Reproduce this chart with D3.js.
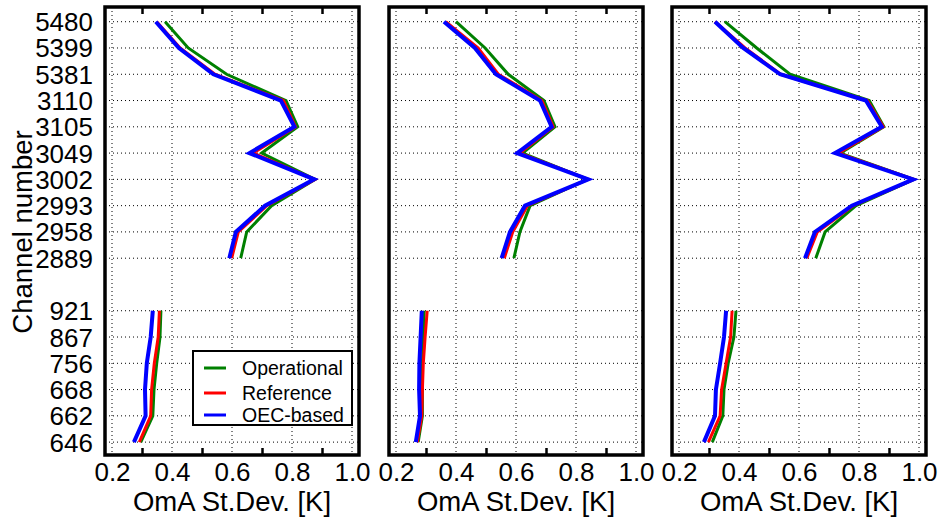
<!DOCTYPE html>
<html>
<head>
<meta charset="utf-8">
<script src="https://cdn.jsdelivr.net/npm/d3@7"></script>
<style>
  body { margin: 0; background: #fff; }
  svg { display: block; font-family: "Liberation Sans", Arial, sans-serif; }
</style>
</head>
<body>
<div id="chart"></div>
<script>
// Channels, top to bottom; the two groups are separated by one empty slot
var channelsUpper = ['5480', '5399', '5381', '3110', '3105', '3049', '3002', '2993', '2958', '2889'];
var channelsLower = ['921', '867', '756', '668', '662', '646'];

// OmA st.dev. per channel (upper group then lower group), one set per panel
var operational1 = [0.377, 0.454, 0.582, 0.780, 0.819, 0.699, 0.877, 0.732, 0.649, 0.629, 0.363, 0.360, 0.349, 0.340, 0.336, 0.296];
var reference1   = [0.349, 0.427, 0.543, 0.771, 0.812, 0.671, 0.877, 0.716, 0.621, 0.599, 0.358, 0.354, 0.341, 0.332, 0.329, 0.291];
var oecBased1    = [0.346, 0.423, 0.538, 0.763, 0.808, 0.658, 0.874, 0.710, 0.613, 0.591, 0.336, 0.329, 0.316, 0.310, 0.312, 0.273];

var operational2 = [0.400, 0.497, 0.574, 0.693, 0.730, 0.622, 0.838, 0.647, 0.613, 0.593, 0.294, 0.291, 0.288, 0.288, 0.288, 0.274];
var reference2   = [0.366, 0.474, 0.541, 0.686, 0.724, 0.613, 0.841, 0.638, 0.589, 0.561, 0.304, 0.297, 0.291, 0.288, 0.286, 0.271];
var oecBased2    = [0.360, 0.463, 0.533, 0.680, 0.719, 0.604, 0.841, 0.630, 0.580, 0.552, 0.286, 0.282, 0.278, 0.277, 0.280, 0.266];

var operational3 = [0.353, 0.459, 0.570, 0.834, 0.883, 0.737, 0.983, 0.790, 0.687, 0.656, 0.390, 0.383, 0.364, 0.350, 0.346, 0.311];
var reference3   = [0.320, 0.420, 0.539, 0.828, 0.881, 0.731, 0.983, 0.781, 0.661, 0.626, 0.377, 0.372, 0.357, 0.342, 0.337, 0.298];
var oecBased3    = [0.320, 0.414, 0.537, 0.823, 0.876, 0.720, 0.981, 0.776, 0.653, 0.620, 0.357, 0.350, 0.337, 0.323, 0.320, 0.283];

var seriesNames = ['Operational', 'Reference', 'OEC-based'];
var seriesColors = ['#008000', '#ff0000', '#0000ff'];
var seriesWidths = [3, 3, 4];

var xLabelValues = [0.2, 0.4, 0.6, 0.8, 1.0];
var xTickValues = [0.3, 0.5, 0.7, 0.9];

var panels = [
    [operational1, reference1, oecBased1],
    [operational2, reference2, oecBased2],
    [operational3, reference3, oecBased3]
];

var width = 940, height = 520;
var panelLeft = [105, 389, 672];
var panelW = 254;
var plotTop = 7, plotBottom = 455;

var svg = d3.select('#chart').append('svg')
    .attr('width', width)
    .attr('height', height);

// slot index for every channel: upper group, one empty slot, lower group
var slots = channelsUpper.map(function (c, i) { return { name: c, pos: i, group: 0 }; })
    .concat(channelsLower.map(function (c, i) {
        return { name: c, pos: channelsUpper.length + 1 + i, group: 1 };
    }));

var y = d3.scaleLinear().domain([-0.56, 16.49]).range([plotTop, plotBottom]);

panels.forEach(function (series, p) {
    var x0 = panelLeft[p];
    var x = d3.scaleLinear().domain([0.2 - 7 / 300, 0.2 + 247 / 300]).range([x0, x0 + panelW]);
    var g = svg.append('g');

    // --- grid ---
    g.append('g').selectAll('line')
        .data(slots)
        .join('line')
        .attr('x1', x0).attr('x2', x0 + panelW)
        .attr('y1', function (d) { return y(d.pos); })
        .attr('y2', function (d) { return y(d.pos); })
        .attr('stroke', '#000').attr('stroke-width', 1)
        .attr('stroke-dasharray', '1,3');
    g.append('g').selectAll('line')
        .data(xLabelValues)
        .join('line')
        .attr('x1', function (d) { return x(d); })
        .attr('x2', function (d) { return x(d); })
        .attr('y1', plotTop).attr('y2', plotBottom)
        .attr('stroke', '#000').attr('stroke-width', 1)
        .attr('stroke-dasharray', '1,3');

    // --- lines (drawn separately for both channel groups) ---
    var line = d3.line()
        .x(function (d) { return x(d.v); })
        .y(function (d) { return y(d.pos); });
    series.forEach(function (vals, s) {
        [0, 1].forEach(function (grp) {
            var pts = slots.map(function (sl, i) { return { pos: sl.pos, v: vals[i], group: sl.group }; })
                .filter(function (d) { return d.group === grp; });
            g.append('path')
                .datum(pts)
                .attr('d', line)
                .attr('fill', 'none')
                .attr('stroke', seriesColors[s])
                .attr('stroke-width', seriesWidths[s]);
        });
    });

    // --- tick marks on top / bottom ---
    g.append('g')
        .attr('transform', 'translate(0,' + plotTop + ')')
        .call(d3.axisBottom(x).tickValues(xTickValues).tickSize(7).tickFormat(''))
        .call(function (a) {
            a.select('.domain').remove();
            a.selectAll('line').attr('stroke-width', 2.5);
        });
    g.append('g')
        .attr('transform', 'translate(0,' + plotBottom + ')')
        .call(d3.axisTop(x).tickValues(xTickValues).tickSize(7).tickFormat(''))
        .call(function (a) {
            a.select('.domain').remove();
            a.selectAll('line').attr('stroke-width', 2.5);
        });

    // --- x labels ---
    g.append('g')
        .attr('transform', 'translate(0,' + plotBottom + ')')
        .call(d3.axisBottom(x).tickValues(xLabelValues).tickSize(0).tickPadding(8)
            .tickFormat(d3.format('.1f')))
        .call(function (a) {
            a.select('.domain').remove();
            a.selectAll('text')
                .attr('font-size', 26)
                .attr('font-family', '"Liberation Sans", Arial, sans-serif')
                .attr('fill', '#000');
        });

    g.append('text')
        .attr('x', x0 + panelW / 2)
        .attr('y', 511)
        .attr('text-anchor', 'middle')
        .attr('font-size', 27.5)
        .text('OmA St.Dev. [K]');

    // --- frame ---
    g.append('rect')
        .attr('x', x0).attr('y', plotTop)
        .attr('width', panelW).attr('height', plotBottom - plotTop)
        .attr('fill', 'none')
        .attr('stroke', '#000')
        .attr('stroke-width', 3.5);

    if (p === 0) {
        g.append('g')
            .selectAll('text')
            .data(slots)
            .join('text')
            .attr('x', 93)
            .attr('y', function (d) { return y(d.pos) + 9.5; })
            .attr('text-anchor', 'end')
            .attr('font-size', 26)
            .text(function (d) { return d.name; });

        g.append('text')
            .attr('transform', 'translate(32,232) rotate(-90)')
            .attr('text-anchor', 'middle')
            .attr('font-size', 27.5)
            .text('Channel number');

        // --- legend ---
        var leg = g.append('g');
        leg.append('rect')
            .attr('x', 193).attr('y', 351)
            .attr('width', 159).attr('height', 74)
            .attr('fill', '#fff')
            .attr('stroke', '#000')
            .attr('stroke-width', 2);
        var legY = [368, 393, 415];
        seriesNames.forEach(function (name, s) {
            leg.append('line')
                .attr('x1', 204).attr('x2', 226)
                .attr('y1', legY[s]).attr('y2', legY[s])
                .attr('stroke', seriesColors[s])
                .attr('stroke-width', 3);
            leg.append('text')
                .attr('x', 242)
                .attr('y', legY[s] + 7)
                .attr('font-size', 19.5)
                .text(name);
        });
    }
});
</script>
</body>
</html>
